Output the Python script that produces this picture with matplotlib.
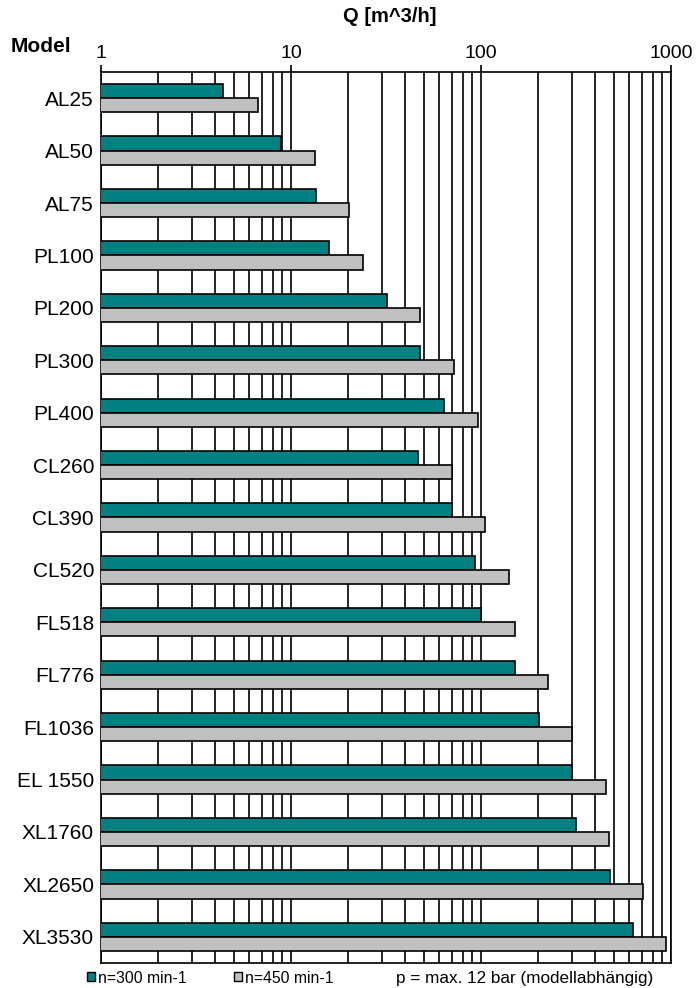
import matplotlib.pyplot as plt
import numpy as np
from matplotlib.patches import Patch
from matplotlib.ticker import NullFormatter, LogLocator

plt.rcParams['font.family'] = ['Liberation Sans', 'DejaVu Sans']

# pump models and flow rates Q [m^3/h] at two speeds
models = ['AL25', 'AL50', 'AL75', 'PL100', 'PL200', 'PL300', 'PL400',
          'CL260', 'CL390', 'CL520', 'FL518', 'FL776', 'FL1036',
          'EL 1550', 'XL1760', 'XL2650', 'XL3530']
q_300 = [4.4, 8.9, 13.5, 15.8, 32, 48, 64, 46.5, 70, 93, 100,
         151, 202, 302, 315, 476, 633]
q_450 = [6.7, 13.4, 20.2, 23.9, 48, 72.5, 97, 70, 105, 140, 151,
         226, 302, 453, 473, 712, 945]

teal = '#008080'
grey = '#C0C0C0'

fig = plt.figure(figsize=(6.98, 9.88), dpi=100)
ax = fig.add_axes([101/698, 1 - 963/988, 570/698, 891/988])

y = np.arange(len(models))
h = 0.27
ax.barh(y - h/2, q_300, height=h, color=teal, edgecolor='black', linewidth=1.2, zorder=3)
ax.barh(y + h/2, q_450, height=h, color=grey, edgecolor='black', linewidth=1.2, zorder=3)

ax.set_xscale('log')
ax.set_xlim(1, 1000)
ax.set_ylim(len(models) - 0.5, -0.5)

ax.xaxis.tick_top()
ax.set_xticks([1, 10, 100, 1000], ['1', '10', '100', '1000'])
ax.xaxis.set_minor_locator(LogLocator(base=10, subs=np.arange(2, 10)))
ax.xaxis.set_minor_formatter(NullFormatter())
ax.tick_params(axis='x', which='major', length=5, width=1.2, pad=2, labelsize=14)
ax.tick_params(axis='x', which='minor', length=0)
ax.grid(True, axis='x', which='both', color='black', linewidth=1.2)
ax.set_axisbelow(True)

ax.set_yticks(y, models)
ax.tick_params(axis='y', length=0, pad=5, labelsize=15)

for side in ax.spines.values():
    side.set_linewidth(1.2)

fig.text(11/698, 1 - 47/988, 'Model', fontsize=15, fontweight='bold', va='center', ha='left')
fig.text(390/698, 1 - 17/988, 'Q [m^3/h]', fontsize=14.5, fontweight='bold', va='center', ha='center')

handles = [Patch(facecolor=teal, edgecolor='black'), Patch(facecolor=grey, edgecolor='black')]
fig.legend(handles, ['n=300 min-1', 'n=450 min-1'], loc='center left',
           bbox_to_anchor=(87/698, 1 - 978/988), ncol=2, frameon=False,
           fontsize=11.3, handlelength=0.5, handleheight=0.5, handletextpad=0.2,
           columnspacing=3.0, borderpad=0, borderaxespad=0)
fig.text(396/698, 1 - 978/988, 'p = max. 12 bar (modellabhängig)', fontsize=12.3,
         va='center', ha='left')

fig.savefig('out.png', dpi=100)
